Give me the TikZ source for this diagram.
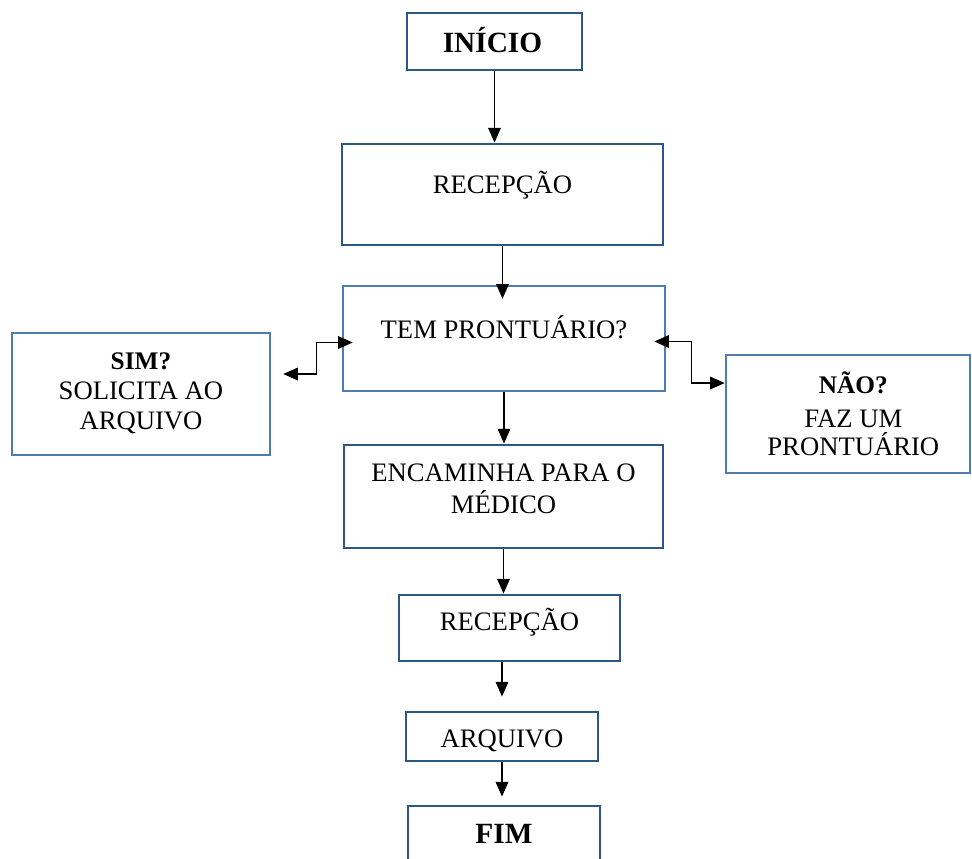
\documentclass[tikz,border=0pt]{standalone}
\usepackage{fontspec}
\setmainfont{Liberation Serif}
\usetikzlibrary{arrows.meta}
\definecolor{boxdark}{HTML}{2C5887}
\definecolor{boxlight}{HTML}{4D7CB0}
\tikzset{
	flowbox/.style 2 args={draw=boxdark, line width=2.2pt, minimum width=#1*0.75pt, minimum height=#2*0.75pt, inner sep=0pt},
	lightbox/.style={draw=boxlight, line width=1.9pt},
	txt/.style={font=\fontsize{20}{24}\selectfont, text height=13.2pt, text depth=0pt, inner sep=0pt},
	titletxt/.style={font=\fontsize{22}{26}\selectfont\bfseries, text height=14.6pt, text depth=0pt, inner sep=0pt},
	headtxt/.style={font=\fontsize{19}{23}\selectfont\bfseries, text height=12.6pt, text depth=0pt, inner sep=0pt},
	link/.style={line width=0.9pt, -{Triangle[length=11pt,width=9.5pt]}},
	dlink/.style={line width=0.9pt, {Triangle[length=11pt,width=9.5pt]}-{Triangle[length=11pt,width=9.5pt]}},
}
\begin{document}
\begin{tikzpicture}[x=0.75pt, y=-0.75pt]
	\useasboundingbox (0,0) rectangle (972,858);
	\clip (0,0) rectangle (972,858);
	% caixas
	\node[flowbox={175}{57}, label={[titletxt,xshift=-1.5pt,yshift=-0.75pt]center:INÍCIO}] (inicio) at (494.5,41.5) {};
	\node[flowbox={321}{101}, label={[txt,yshift=7pt]center:RECEPÇÃO}] (recepcao) at (502.5,194.5) {};
	\node[flowbox={322}{105}, lightbox, label={[txt,yshift=6.4pt]center:TEM PRONTUÁRIO?}] (prontuario) at (504,338.5) {};
	\node[flowbox={258}{122}, lightbox, label={[headtxt,yshift=24.4pt]center:SIM?}, label={[txt,yshift=2.25pt]center:SOLICITA AO}, label={[txt,yshift=-19.9pt]center:ARQUIVO}] (sim) at (141,394) {};
	\node[flowbox={244}{118}, lightbox, label={[headtxt,xshift=4pt,yshift=21.75pt]center:NÃO?}, label={[txt,xshift=4pt,yshift=-3.75pt]center:FAZ UM}, label={[txt,xshift=4pt,yshift=-24.4pt]center:PRONTUÁRIO}] (nao) at (848,414) {};
	\node[flowbox={319}{103}, label={[txt,yshift=18pt]center:ENCAMINHA PARA O}, label={[txt,yshift=-6.4pt]center:MÉDICO}] (encaminha) at (503.5,496.5) {};
	\node[flowbox={221}{66}, label={[txt,yshift=4.9pt]center:RECEPÇÃO}] (recepcao2) at (509.5,628) {};
	\node[flowbox={192}{49}, label={[txt,yshift=-1.5pt]center:ARQUIVO}] (arquivo) at (502,736.5) {};
	\node[flowbox={192}{60}, label={[titletxt,yshift=1.5pt]center:FIM}] (fim) at (504,836) {};
	% setas
	\draw[link] (inicio.south) -- (inicio.south |- recepcao.north);
	\draw[link] (recepcao.south) -- ([shift={(0,14)}]recepcao.south |- prontuario.north);
	\draw[link] (prontuario.south) -- (prontuario.south |- encaminha.north);
	\draw[link] (encaminha.south) -- (encaminha.south |- recepcao2.north);
	\draw[link] (arquivo.north |- recepcao2.south) -- ([shift={(0,-14)}]arquivo.north);
	\draw[link] (arquivo.south) -- ([shift={(0,-8)}]arquivo.south |- fim.north);
	\draw[dlink] ([shift={(11,4)}]prontuario.west) -- ++(-36,0) |- ([shift={(12,-20)}]sim.east);
	\draw[dlink] ([shift={(-12,3)}]prontuario.east) -- ++(37,0) |- ([shift={(0,-31)}]nao.west);
\end{tikzpicture}
\end{document}
